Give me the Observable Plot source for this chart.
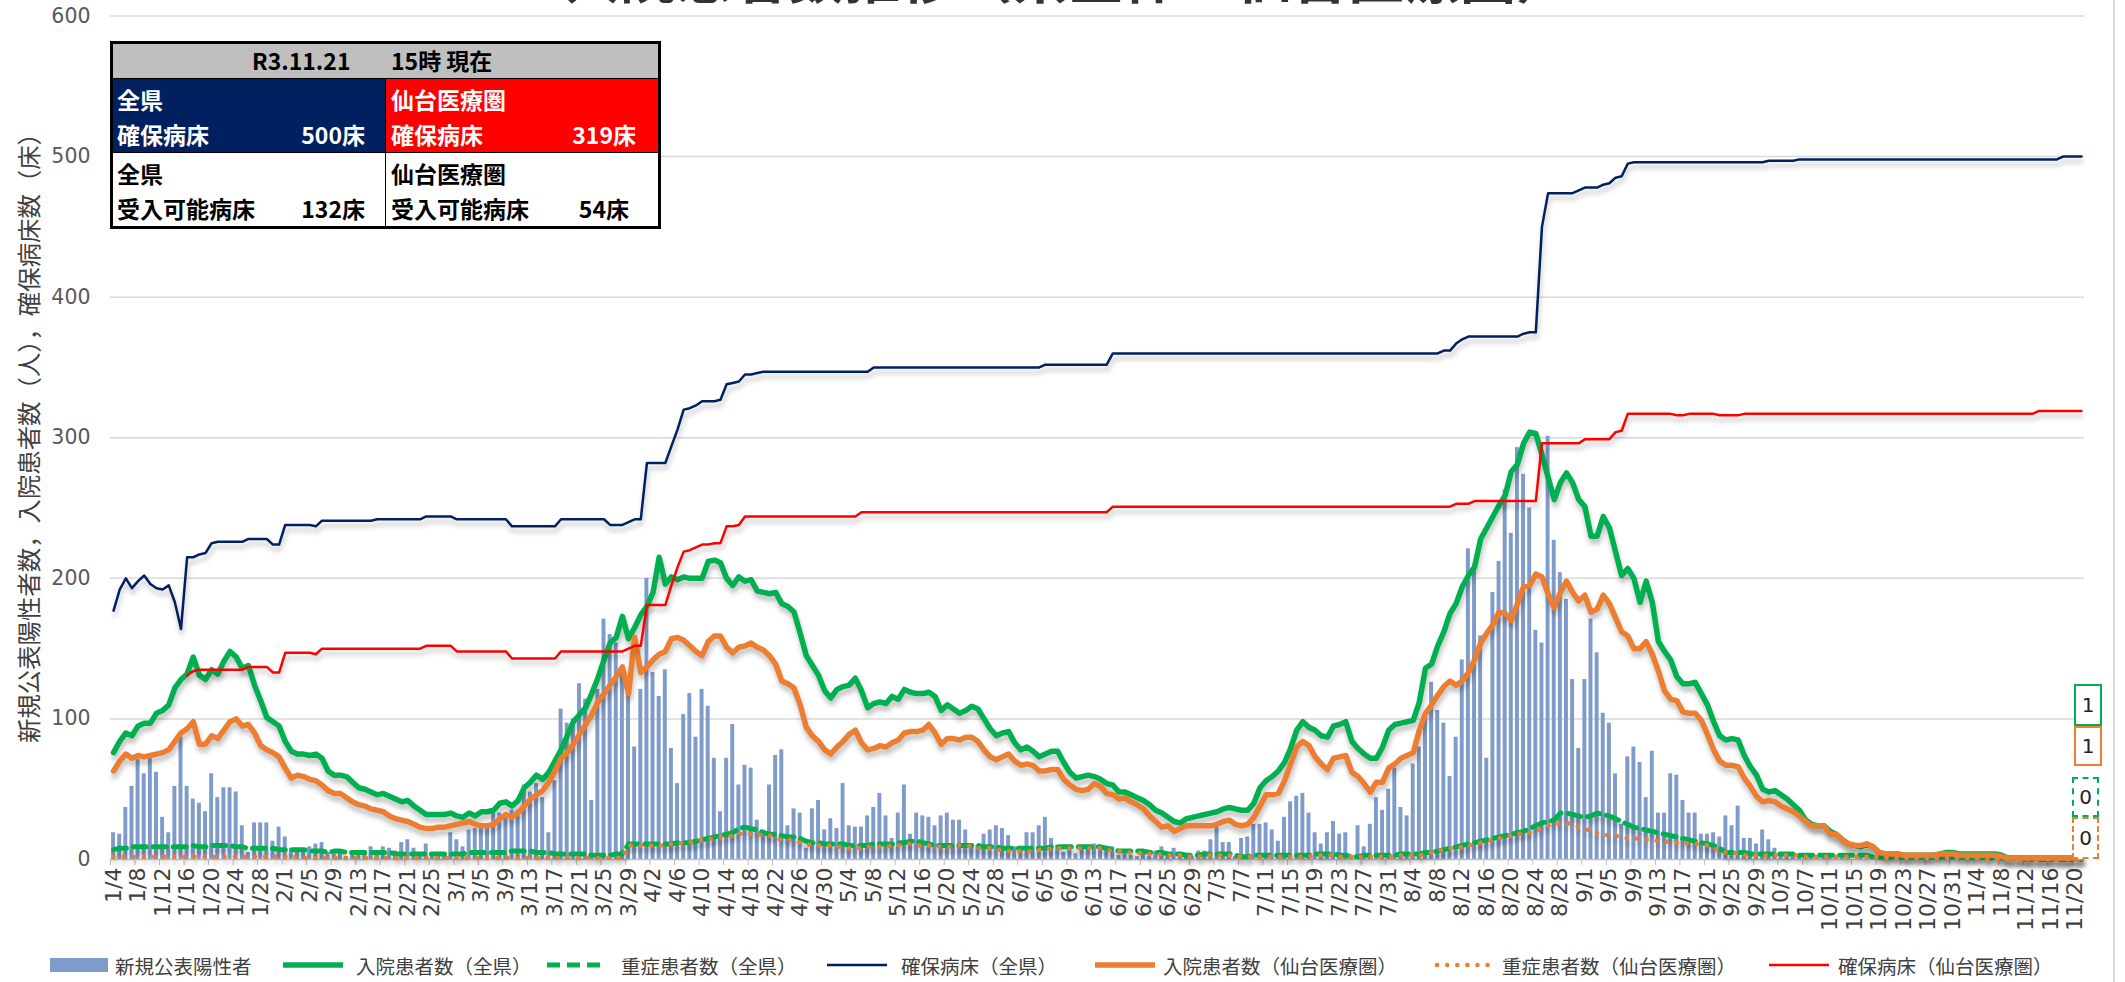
<!DOCTYPE html>
<html><head><meta charset="utf-8">
<script src="https://cdn.jsdelivr.net/npm/d3@7"></script>
<script src="https://cdn.jsdelivr.net/npm/@observablehq/plot@0.6"></script>
<style>
body{margin:0;background:#fff;width:2125px;height:982px;overflow:hidden;position:relative;font-family:"Noto Sans CJK JP","Noto Sans",sans-serif;}
#chart{position:absolute;left:0;top:0;}
#title{position:absolute;left:1068px;top:-54px;transform:translateX(-50%);font-size:56px;line-height:56px;font-weight:bold;color:#333;white-space:nowrap;}
#ytitle{position:absolute;left:27px;top:432px;transform:translate(-50%,-50%) rotate(-90deg);font-size:24.4px;color:#404040;white-space:nowrap;}
.cell{position:absolute;box-sizing:border-box;border:1.5px solid #000;font-weight:bold;font-size:23px;line-height:35px;padding:3px 0 0 5px;}
.cell .r{display:flex;justify-content:space-between;}
#tframe{position:absolute;left:110px;top:41px;width:551px;height:188px;box-sizing:border-box;border:3px solid #000;}
.leg{position:absolute;top:946px;height:38px;display:flex;align-items:center;font-size:19.5px;color:#404040;white-space:nowrap;}
.lab{position:absolute;box-sizing:border-box;font-family:"DejaVu Sans",sans-serif;font-size:20px;color:#222;display:flex;align-items:center;justify-content:center;background:#fff;}
#vline{position:absolute;left:2113px;top:0;width:2px;height:982px;background:#d9d9d9;}
</style></head><body>
<div id="chart"></div>
<div id="title">入院患者数推移（県全体・仙台医療圏）</div>
<div id="ytitle">新規公表陽性者数，入院患者数（人），確保病床数（床）</div>
<div id="vline"></div>
<div class="cell" style="left:111px;top:42px;width:549px;height:37px;background:#bfbfbf;padding:0;">
  <span style="position:absolute;left:140px;top:0;line-height:34px;">R3.11.21</span>
  <span style="position:absolute;left:279px;top:0;line-height:34px;">15時 現在</span>
</div>
<div class="cell" style="left:111px;top:78px;width:275px;height:75px;background:#002060;color:#fff;">
  <div>全県</div><div class="r"><span>確保病床</span><span style="padding-right:20px">500床</span></div>
</div>
<div class="cell" style="left:385px;top:78px;width:275px;height:75px;background:#ff0000;color:#fff;">
  <div>仙台医療圏</div><div class="r"><span>確保病床</span><span style="padding-right:23px">319床</span></div>
</div>
<div class="cell" style="left:111px;top:152px;width:275px;height:76px;background:#fff;color:#000;">
  <div>全県</div><div class="r"><span>受入可能病床</span><span style="padding-right:20px">132床</span></div>
</div>
<div class="cell" style="left:385px;top:152px;width:275px;height:76px;background:#fff;color:#000;">
  <div>仙台医療圏</div><div class="r"><span>受入可能病床</span><span style="padding-right:30px">54床</span></div>
</div>
<div id="tframe"></div>
<div id="legend"></div>
<div id="labels"></div>
<script>
// ---- categories / tick labels ----
const tickLabels = ["1/4","1/8","1/12","1/16","1/20","1/24","1/28","2/1","2/5","2/9","2/13","2/17","2/21","2/25","3/1","3/5","3/9","3/13","3/17","3/21","3/25","3/29","4/2","4/6","4/10","4/14","4/18","4/22","4/26","4/30","5/4","5/8","5/12","5/16","5/20","5/24","5/28","6/1","6/5","6/9","6/13","6/17","6/21","6/25","6/29","7/3","7/7","7/11","7/15","7/19","7/23","7/27","7/31","8/4","8/8","8/12","8/16","8/20","8/24","8/28","9/1","9/5","9/9","9/13","9/17","9/21","9/25","9/29","10/3","10/7","10/11","10/15","10/19","10/23","10/27","10/31","11/4","11/8","11/12","11/16","11/20"];
const yTicks = [0,100,200,300,400,500,600];

// ---- series (daily, 1/4 .. 11/21) ----
const positives = [19,18,37,52,71,61,72,62,30,19,
52,87,52,43,40,34,61,44,51,51,
48,24,5,26,26,26,13,23,16,8,
8,8,9,11,12,5,4,5,2,4,
4,6,9,4,9,8,6,12,14,8,
4,11,3,4,5,19,14,9,21,22,
22,22,33,33,30,35,35,53,48,54,
44,19,56,107,97,100,125,114,42,121,
171,160,154,135,120,80,121,200,133,116,
135,79,54,103,118,87,121,109,72,34,
72,96,53,67,65,28,21,53,74,78,
24,36,33,8,36,42,21,29,22,54,
24,23,23,31,37,47,31,15,33,53,
18,33,31,30,24,31,33,28,28,21,
9,10,18,21,24,22,17,9,8,19,
19,24,30,15,10,5,8,4,8,9,
11,9,8,9,3,4,3,2,4,2,
6,9,4,8,5,3,2,6,6,14,
23,12,12,2,15,16,25,25,26,21,
13,30,41,45,47,33,19,11,19,27,
18,19,3,24,9,25,44,35,50,65,
37,31,68,80,101,126,106,97,59,87,
142,221,208,159,72,190,212,263,232,293,
274,250,163,154,301,227,204,185,128,79,
128,171,147,104,97,61,25,73,80,69,
44,77,33,33,61,60,42,33,33,18,
18,19,16,31,24,38,15,15,11,21,
14,8,4,3,2,3,2,2,1,2,
1,2,1,1,0,1,0,1,1,0,
0,1,0,0,0,1,0,0,0,0,
1,0,0,0,0,0,0,0,0,0,
0,0,0,0,0,0,0,0,0,0,0,0];

const hospPref = [76,84,90,88,95,97,97,104,106,110,
122,128,132,144,131,128,135,132,141,148,
144,136,138,124,113,101,98,95,84,77,
75,75,74,75,72,63,60,60,59,55,
51,50,48,46,47,45,43,41,42,38,
35,32,32,32,32,33,31,30,33,31,
34,34,35,40,41,38,42,51,55,60,
57,62,70,78,88,98,103,108,118,129,
142,154,158,173,157,165,174,180,190,215,
196,201,199,201,200,200,200,212,213,211,
200,195,201,198,199,191,190,189,190,182,
180,176,161,145,138,131,120,115,121,123,
124,129,120,108,111,112,111,116,114,121,
119,118,118,119,116,106,110,107,104,106,
109,107,100,93,88,90,91,83,78,80,
77,73,75,77,77,69,62,58,59,60,
59,57,54,53,48,48,46,44,42,39,
35,33,30,27,26,29,30,31,32,33,
34,36,37,36,35,35,40,51,56,59,
63,69,79,92,98,94,92,88,87,95,
96,98,84,79,75,72,72,80,92,96,
97,98,99,112,136,139,152,162,175,182,
194,202,208,228,236,244,252,259,276,281,
296,304,303,288,272,256,268,275,268,256,
251,230,230,244,236,219,202,207,200,183,
198,183,155,148,142,130,125,125,126,118,
110,98,88,85,86,85,74,66,60,50,
48,49,46,43,39,35,28,25,24,24,
20,18,14,11,10,9,11,9,5,4,
4,4,3,3,3,3,3,3,4,5,
5,4,4,4,4,4,4,4,3,1,
1,1,1,1,1,1,1,1,1,1,1,1];

const severePref = [7,8,8,9,9,9,9,9,9,9,
9,9,9,10,9,9,10,10,10,10,
9,9,8,8,8,8,8,7,7,7,
7,7,6,6,6,5,6,6,5,5,
5,5,5,5,5,5,4,4,4,4,
4,4,4,4,4,4,4,4,5,5,
5,5,5,5,5,6,6,6,6,5,
5,5,4,4,4,4,4,4,3,3,
3,3,4,4,11,11,11,11,11,11,
11,11,12,12,12,13,14,15,16,17,
18,19,22,23,22,21,19,18,18,17,
16,16,15,13,12,12,11,11,11,11,
10,10,10,10,11,11,11,11,12,12,
13,13,12,11,10,10,10,10,10,10,
10,10,9,9,9,8,8,8,8,8,
8,8,8,9,9,9,9,9,9,9,
9,9,8,7,6,6,6,6,6,5,
5,5,4,4,4,3,3,3,4,4,
4,4,4,3,2,2,3,3,3,3,
3,3,3,3,3,3,4,4,4,4,
3,3,2,2,3,3,3,3,3,3,
4,4,4,4,5,5,6,7,8,9,
10,11,12,13,14,15,16,17,18,19,
20,22,24,26,27,28,33,33,32,31,
30,31,33,32,31,29,27,25,23,22,
21,20,19,18,17,16,15,14,13,12,
11,10,8,5,5,5,5,4,4,4,
4,4,4,4,4,3,3,3,3,3,
3,3,3,3,3,3,3,2,2,2,
2,2,2,2,2,2,2,2,2,2,
2,2,2,2,2,2,1,1,1,1,
1,1,0,0,0,0,0,0,0,0,0,0];

const bedsPref = [177,192,200,193,198,202,196,193,192,195,
183,164,215,215,217,218,225,226,226,226,
226,226,228,228,228,228,224,224,238,238,
238,238,238,237,241,241,241,241,241,241,
241,241,241,242,242,242,242,242,242,242,
242,244,244,244,244,244,242,242,242,242,
242,242,242,242,242,237,237,237,237,237,
237,237,237,242,242,242,242,242,242,242,
242,238,238,238,240,242,242,282,282,282,
282,294,306,320,321,323,326,326,326,327,
338,339,340,345,345,346,347,347,347,347,
347,347,347,347,347,347,347,347,347,347,
347,347,347,347,350,350,350,350,350,350,
350,350,350,350,350,350,350,350,350,350,
350,350,350,350,350,350,350,350,350,350,
350,350,352,352,352,352,352,352,352,352,
352,352,352,360,360,360,360,360,360,360,
360,360,360,360,360,360,360,360,360,360,
360,360,360,360,360,360,360,360,360,360,
360,360,360,360,360,360,360,360,360,360,
360,360,360,360,360,360,360,360,360,360,
360,360,360,360,360,360,360,362,362,367,
370,372,372,372,372,372,372,372,372,372,
374,375,375,450,474,474,474,474,474,476,
478,478,478,480,481,485,486,495,496,496,
496,496,496,496,496,496,496,496,496,496,
496,496,496,496,496,496,496,496,496,496,
497,497,497,497,497,498,498,498,498,498,
498,498,498,498,498,498,498,498,498,498,
498,498,498,498,498,498,498,498,498,498,
498,498,498,498,498,498,498,498,498,498,
498,498,498,498,498,498,498,498,500,500,500,500];

const hospSendai = [63,70,75,72,74,73,74,75,76,78,
84,90,93,98,82,82,88,86,92,98,
100,95,96,90,81,78,76,73,65,58,
60,59,57,56,53,49,47,47,44,41,
39,38,36,35,34,31,29,28,27,25,
23,22,22,23,23,24,25,26,27,25,
24,24,25,29,32,30,33,38,43,46,
49,55,63,72,76,82,89,96,103,112,
118,124,130,137,118,158,133,137,142,146,
148,157,158,156,152,148,145,155,159,159,
151,147,151,152,154,151,149,145,139,127,
125,122,110,94,88,84,78,75,80,84,
89,92,83,78,79,81,80,83,85,90,
91,91,92,96,90,82,86,86,85,87,
87,84,78,73,71,73,75,70,67,68,
67,63,63,64,64,57,53,50,49,50,
54,52,47,46,43,44,41,39,36,31,
27,23,24,20,22,24,24,24,24,24,
25,27,28,25,24,25,30,38,46,46,
47,56,68,80,84,81,73,68,64,72,
73,74,62,59,54,48,55,55,65,68,
72,74,76,92,104,110,117,123,127,124,
127,133,142,154,161,167,176,175,170,182,
194,195,203,201,189,179,190,198,190,184,
188,176,178,188,182,172,162,159,150,150,
155,146,134,120,114,113,105,104,104,99,
89,78,70,67,67,66,58,52,45,41,
42,41,38,36,34,31,27,24,24,24,
18,18,14,11,10,10,11,9,5,4,
4,4,3,3,3,3,3,3,4,4,
4,3,3,3,3,3,3,3,2,1,
1,1,1,1,1,1,1,1,1,1,1,1];

const severeSendai = [2,2,2,2,2,2,2,2,2,2,
2,2,2,2,2,2,2,2,2,2,
2,2,2,2,2,2,2,2,2,2,
2,1,1,1,1,1,1,1,1,1,
1,1,1,1,1,1,1,1,1,1,
1,1,1,1,1,1,1,1,1,1,
1,1,1,1,1,1,1,1,1,1,
1,1,1,1,1,1,1,1,1,1,
1,1,1,1,10,10,10,10,10,10,
10,11,11,12,12,13,14,15,15,16,
16,17,18,19,18,18,17,17,15,14,
14,14,12,11,10,10,10,10,9,9,
8,8,8,9,9,9,9,10,10,11,
11,10,10,10,9,9,9,9,10,10,
9,8,8,8,7,7,6,6,6,6,
6,7,7,8,8,8,8,8,8,8,
8,8,7,6,6,5,5,5,4,4,
4,3,3,3,3,2,2,2,3,3,
3,3,3,2,2,2,2,2,2,2,
2,2,2,2,2,2,3,3,3,3,
2,2,2,2,2,2,2,2,2,2,
3,3,3,3,4,5,6,7,8,8,
9,10,11,12,13,14,15,16,17,18,
19,19,20,22,24,25,26,26,25,23,
22,20,19,18,17,17,16,15,15,15,
14,14,13,13,12,12,12,11,11,11,
10,8,6,5,5,4,3,3,3,3,
3,3,3,3,3,3,2,2,2,2,
2,2,2,2,2,2,2,2,2,1,
1,1,1,1,1,1,1,1,1,1,
1,1,1,1,1,0,0,0,0,0,
0,0,0,0,0,0,0,0,0,0,0,0];

const bedsSendai = [null,null,null,null,null,null,null,null,null,null,
null,null,131,134,135,135,135,135,135,135,
135,135,137,137,137,137,133,133,147,147,
147,147,147,146,150,150,150,150,150,150,
150,150,150,150,150,150,150,150,150,150,
150,152,152,152,152,152,148,148,148,148,
148,148,148,148,148,143,143,143,143,143,
143,143,143,148,148,148,148,148,148,148,
148,148,148,148,150,152,152,181,181,181,
181,195,208,219,220,222,224,224,225,225,
237,237,238,244,244,244,244,244,244,244,
244,244,244,244,244,244,244,244,244,244,
244,244,247,247,247,247,247,247,247,247,
247,247,247,247,247,247,247,247,247,247,
247,247,247,247,247,247,247,247,247,247,
247,247,247,247,247,247,247,247,247,247,
247,247,247,251,251,251,251,251,251,251,
251,251,251,251,251,251,251,251,251,251,
251,251,251,251,251,251,251,251,251,251,
251,251,251,251,251,251,251,251,251,251,
251,251,251,251,251,251,251,251,251,251,
251,251,251,251,251,251,251,251,251,253,
253,253,255,255,255,255,255,255,255,255,
255,255,255,296,296,296,296,296,296,296,
299,299,299,299,299,304,305,317,317,317,
317,317,317,317,317,316,316,317,317,317,
317,317,316,316,316,316,317,317,317,317,
317,317,317,317,317,317,317,317,317,317,
317,317,317,317,317,317,317,317,317,317,
317,317,317,317,317,317,317,317,317,317,
317,317,317,317,317,317,317,317,317,317,
317,317,317,317,319,319,319,319,319,319,319,319];

const N = positives.length;
const rows = d3.range(N).map(i => ({
  i,
  positives: positives[i],
  hospPref: hospPref[i],
  severePref: severePref[i],
  bedsPref: bedsPref[i],
  hospSendai: hospSendai[i],
  severeSendai: severeSendai[i],
  bedsSendai: bedsSendai[i]
}));
const labelIdx = tickLabels.map((_, k) => k * 4);
const boundaries = labelIdx.map(i => i - 0.5);

const C = {bar:"#7f9bca", green:"#00b050", navy:"#002060", orange:"#ed7d31", red:"#ff0000"};

const chart = Plot.plot({
  width: 2125, height: 945,
  marginLeft: 110, marginRight: 41, marginTop: 15.5, marginBottom: 86,
  style: {fontFamily: "'DejaVu Sans', sans-serif", color: "#595959", background: "transparent"},
  x: {domain: [-0.5, N - 0.5]},
  y: {domain: [0, 600]},
  marks: [
    Plot.gridY(yTicks.filter(d => d > 0), {stroke: "#d9d9d9", strokeOpacity: 1, strokeWidth: 1.5}),
    Plot.axisY({ticks: yTicks, tickSize: 0, tickPadding: 20, fontSize: 20.5, label: null}),
    Plot.rectY(rows, {x1: d => d.i - 0.5, x2: d => d.i + 0.5, y: "positives", fill: C.bar, insetLeft: 1.1, insetRight: 1.1}),
    Plot.ruleY([0], {stroke: "#bfbfbf", strokeWidth: 1.5}),
    Plot.axisX({ticks: boundaries, tickFormat: () => "", tickSize: 6, stroke: "#bfbfbf", label: null}),
    Plot.axisX({ticks: labelIdx, tickFormat: d => tickLabels[d / 4], tickSize: 0, tickPadding: 8, tickRotate: -90, fontSize: 22, fill: "#404040", label: null}),
    Plot.line(rows, {x: "i", y: "hospPref", stroke: C.green, strokeWidth: 5.5, strokeLinejoin: "round"}),
    Plot.line(rows, {x: "i", y: "severePref", stroke: C.green, strokeWidth: 5, strokeDasharray: "13 7"}),
    Plot.line(rows, {x: "i", y: "bedsPref", stroke: C.navy, strokeWidth: 2.5}),
    Plot.line(rows, {x: "i", y: "hospSendai", stroke: C.orange, strokeWidth: 5.5, strokeLinejoin: "round"}),
    Plot.line(rows, {x: "i", y: "severeSendai", stroke: C.orange, strokeWidth: 4.5, strokeDasharray: "0.1 10", strokeLinecap: "round"}),
    Plot.line(rows, {x: "i", y: "bedsSendai", stroke: C.red, strokeWidth: 2.5})
  ]
});
document.getElementById("chart").append(chart);
chart.querySelectorAll('g[aria-label="line"]').forEach(g => g.style.filter = "drop-shadow(1px 5px 2.5px rgba(0,0,0,0.25))");

// ---- legend ----
const legendItems = [
  {label: "新規公表陽性者", kind: "bar", color: C.bar, sx: 50, tx: 115},
  {label: "入院患者数（全県）", kind: "line", color: C.green, w: 5.5, sx: 283, tx: 356},
  {label: "重症患者数（全県）", kind: "dash", color: C.green, w: 5, sx: 547, tx: 621},
  {label: "確保病床（全県）", kind: "line", color: C.navy, w: 2.5, sx: 827, tx: 901},
  {label: "入院患者数（仙台医療圏）", kind: "line", color: C.orange, w: 5.5, sx: 1095, tx: 1163},
  {label: "重症患者数（仙台医療圏）", kind: "dot", color: C.orange, w: 4.5, sx: 1434, tx: 1502},
  {label: "確保病床（仙台医療圏）", kind: "line", color: C.red, w: 2.5, sx: 1769, tx: 1838}
];
const leg = document.getElementById("legend");
for (const it of legendItems) {
  const s = document.createElement("div");
  s.className = "leg"; s.style.left = it.sx + "px";
  let sw;
  if (it.kind === "bar") sw = `<svg width="58" height="38"><rect x="0" y="12" width="58" height="14" fill="${it.color}"/></svg>`;
  else {
    const dash = it.kind === "dash" ? `stroke-dasharray="13 7"` : it.kind === "dot" ? `stroke-dasharray="0.1 10" stroke-linecap="round"` : "";
    sw = `<svg width="60" height="38"><line x1="${it.kind==='dot'?3:0}" x2="60" y1="19" y2="19" stroke="${it.color}" stroke-width="${it.w}" ${dash}/></svg>`;
  }
  s.innerHTML = sw;
  leg.append(s);
  const t = document.createElement("div");
  t.className = "leg"; t.style.left = it.tx + "px"; t.textContent = it.label;
  leg.append(t);
}

// ---- end-value labels ----
const endLabels = [
  {v: hospPref[N - 1], color: C.green, style: "solid", l: 2074, t: 684, w: 28, h: 42},
  {v: hospSendai[N - 1], color: C.orange, style: "solid", l: 2074, t: 726, w: 28, h: 40},
  {v: severePref[N - 1], color: C.green, style: "dashed", l: 2072, t: 777, w: 27, h: 40},
  {v: severeSendai[N - 1], color: C.orange, style: "dashed", l: 2072, t: 817, w: 27, h: 42}
];
const lab = document.getElementById("labels");
for (const e of endLabels) {
  const d = document.createElement("div");
  d.className = "lab";
  Object.assign(d.style, {left: e.l + "px", top: e.t + "px", width: e.w + "px", height: e.h + "px", border: `2px ${e.style} ${e.color}`});
  d.textContent = e.v;
  lab.append(d);
}
</script>
</body></html>
